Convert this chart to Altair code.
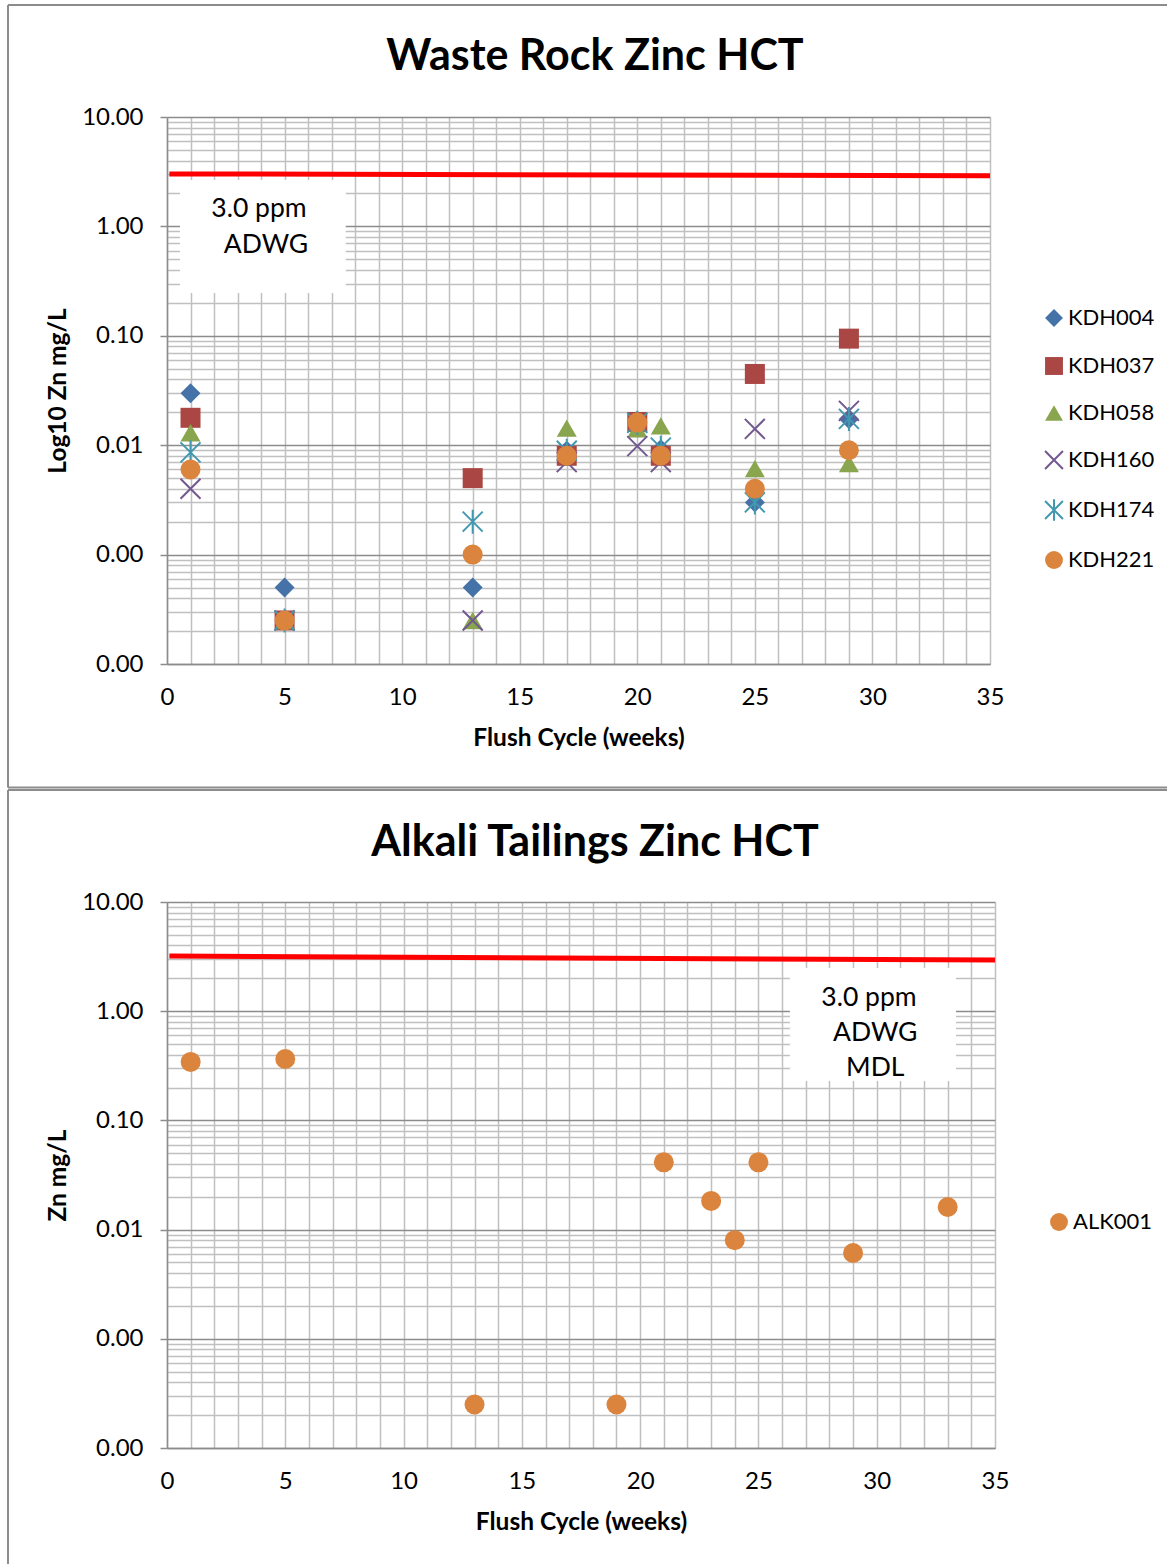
import altair as alt
import pandas as pd

FONT = "Lato"
FRAME_COLOR = "#8c8c8c"
GRID_MINOR = "#c0c0c0"
GRID_MAJOR = "#8c8c8c"

# ---------------- data: Waste Rock ----------------
WEEKS = [1, 5, 13, 17, 20, 21, 25, 29]
KDH004 = [0.0298, 0.0005, 0.0005, 0.0089, 0.016, 0.0092, 0.0030, 0.0174]
KDH037 = [0.0178, 0.00025, 0.0050, 0.0080, 0.0163, 0.0080, 0.0448, 0.0942]
KDH058 = [0.0130, 0.00025, 0.00025, 0.0143, 0.0141, 0.0150, 0.0061, 0.0068]
KDH160 = [0.0040, 0.00025, 0.00025, 0.0070, 0.0098, 0.0070, 0.0141, 0.0206]
KDH174 = [0.0086, 0.00025, 0.0020, 0.0089, 0.0160, 0.0095, 0.0030, 0.0174]
KDH221 = [0.0060, 0.00025, 0.0010, 0.0080, 0.0161, 0.0080, 0.0040, 0.0090]
SERIES = ["KDH004", "KDH037", "KDH058", "KDH160", "KDH174", "KDH221"]
SERIES_VALUES = [KDH004, KDH037, KDH058, KDH160, KDH174, KDH221]
X_PATH = "M-1,-1L1,1M-1,1L1,-1"
STAR_PATH = "M-1,-1L1,1M-1,1L1,-1M0,-1.2L0,1.2"
SERIES_SHAPES = ["diamond", "square", "triangle-up", X_PATH, STAR_PATH, "circle"]
SERIES_FILLS = ["#4572A7", "#AA4643", "#89A54E", "transparent", "transparent", "#DB843D"]
SERIES_STROKES = ["transparent", "transparent", "transparent", "#71588F", "#4198AF", "transparent"]

# ---------------- data: Alkali Tailings ----------------
ALK_WEEKS = [1, 5, 13, 19, 21, 23, 24, 25, 29, 33]
ALK001 = [0.343, 0.365, 0.00025, 0.00025, 0.0413, 0.0183, 0.0080, 0.0413, 0.0061, 0.0161]
ALK_SERIES = ["ALK001"]
ALK_COLORS = ["#DB843D"]

# guideline (ADWG 3.0 ppm) endpoints
LIMIT_X_TOP = [0.1, 35]
LIMIT_Y_TOP = [3.02, 2.90]
LIMIT_X_BOT = [0.1, 35]
LIMIT_Y_BOT = [3.20, 2.94]

TITLES = ["Waste Rock Zinc HCT", "Alkali Tailings Zinc HCT"]
Y_TITLES = ["Log10 Zn mg/L", "Zn mg/L"]
X_TITLE = "Flush Cycle (weeks)"

# annotation boxes (data coordinates)
BOX_TOP = {"x": [0.55], "x2": [7.6], "y": [2.66], "y2": [0.246]}
BOX_TOP_TEXT = {"t": ["3.0 ppm", "ADWG"], "x": [3.91, 4.21], "y": [1.219, 0.571]}
BOX_BOT = {"x": [26.33], "x2": [33.35], "y": [2.487], "y2": [0.2296]}
BOX_BOT_TEXT = {"t": ["3.0 ppm", "ADWG", "MDL"], "x": [29.67, 29.94, 29.94], "y": [1.116, 0.533, 0.255]}

# ---------------- scales & axes ----------------
YVALS = [k * 10.0 ** e for e in range(-4, 1) for k in range(1, 10)] + [10.0]
XVALS = list(range(0, 36))
DEC = "abs(log(datum.value)/LN10 - round(log(datum.value)/LN10)) < 0.001"

XSCALE = alt.Scale(domain=[0, 35], nice=False, zero=False)
YSCALE = alt.Scale(type="log", domain=[0.0001, 10], nice=False)

AX_COMMON = dict(
    labelFont=FONT, labelFontSize=24, labelColor="black",
    titleFont=FONT, titleFontSize=24.5, titleFontWeight="bold", titleColor="black",
    labelOverlap=False, labelFlush=False, gridWidth=1.5,
    domainColor=FRAME_COLOR, domainWidth=1.5,
)


def xaxis():
    return alt.Axis(
        title=X_TITLE, values=XVALS,
        labelExpr="datum.value % 5 == 0 ? datum.label : ''",
        ticks=False, gridColor=GRID_MINOR,
        labelPadding=21, titlePadding=17, **AX_COMMON,
    )


def yaxis(title):
    return alt.Axis(
        title=title, values=YVALS,
        labelExpr=f"{DEC} ? format(datum.value, '.2f') : ''",
        gridColor={"condition": {"test": DEC, "value": GRID_MAJOR}, "value": GRID_MINOR},
        tickColor={"condition": {"test": DEC, "value": FRAME_COLOR}, "value": "transparent"},
        tickSize=7, tickWidth=1.5,
        labelPadding=17, titlePadding=11, **AX_COMMON,
    )


def frame(L, T, R, B, with_bottom):
    one = pd.DataFrame({"k": [0]})
    base = alt.Chart(one).mark_rule(color=FRAME_COLOR, strokeWidth=2)
    layers = [
        base.encode(x=alt.value(L), y=alt.value(T), y2=alt.value(B)),
        base.encode(x=alt.value(L), x2=alt.value(R), y=alt.value(T)),
    ]
    if with_bottom:
        layers.append(base.encode(x=alt.value(L), x2=alt.value(R), y=alt.value(B)))
    return layers


def panel(frames, title, ytitle, limx, limy, box, boxtext, points, w, h, legend_xy, title_y):
    xa = xaxis()
    ya = yaxis(ytitle)
    line = alt.Chart(pd.DataFrame({"x": limx, "y": limy})).mark_line(
        color="#FF0000", strokeWidth=5
    ).encode(
        x=alt.X("x:Q", scale=XSCALE, axis=xa),
        y=alt.Y("y:Q", scale=YSCALE, axis=ya),
    )
    rect = alt.Chart(pd.DataFrame(box)).mark_rect(color="white", opacity=1).encode(
        x=alt.X("x:Q", scale=XSCALE, axis=xa), x2="x2:Q",
        y=alt.Y("y:Q", scale=YSCALE, axis=ya), y2="y2:Q",
    )
    btext = alt.Chart(pd.DataFrame(boxtext)).mark_text(
        font=FONT, fontSize=26.5, color="black", baseline="alphabetic", align="center"
    ).encode(
        x=alt.X("x:Q", scale=XSCALE, axis=xa),
        y=alt.Y("y:Q", scale=YSCALE, axis=ya),
        text="t:N",
    )
    ttl = alt.Chart(pd.DataFrame({"t": [title]})).mark_text(
        font=FONT, fontSize=43, fontWeight="bold", color="black",
        baseline="alphabetic", align="center"
    ).encode(x=alt.value(428), y=alt.value(title_y), text="t:N")
    return alt.layer(
        *frames, line, rect, btext, points(xa, ya, legend_xy), ttl
    ).properties(width=w, height=h)


def make_legend(lxy):
    return alt.Legend(
        title=None, orient="none", legendX=lxy[0], legendY=lxy[1],
        labelFont=FONT, labelFontSize=22, labelColor="black",
        symbolSize=320, symbolStrokeWidth=2, rowPadding=22, labelOffset=3, padding=0,
    )


def top_points(xa, ya, lxy):
    rows = []
    for s, vals in zip(SERIES, SERIES_VALUES):
        for wk, v in zip(WEEKS, vals):
            rows.append({"week": wk, "zn": v, "series": s})
    df = pd.DataFrame(rows)
    lg = make_legend(lxy)
    return alt.Chart(df).mark_point(opacity=1, size=400, strokeWidth=2).encode(
        x=alt.X("week:Q", scale=XSCALE, axis=xa),
        y=alt.Y("zn:Q", scale=YSCALE, axis=ya),
        fill=alt.Fill("series:N", scale=alt.Scale(domain=SERIES, range=SERIES_FILLS), legend=lg),
        stroke=alt.Stroke("series:N", scale=alt.Scale(domain=SERIES, range=SERIES_STROKES), legend=lg),
        shape=alt.Shape("series:N", scale=alt.Scale(domain=SERIES, range=SERIES_SHAPES), legend=lg),
    )


def bottom_points(xa, ya, lxy):
    df = pd.DataFrame({"week": ALK_WEEKS, "zn": ALK001, "grp": ALK_SERIES * len(ALK001)})
    lg = make_legend(lxy)
    return alt.Chart(df).mark_point(opacity=1, size=400, filled=True, shape="circle").encode(
        x=alt.X("week:Q", scale=XSCALE, axis=xa),
        y=alt.Y("zn:Q", scale=YSCALE, axis=ya),
        color=alt.Color("grp:N", scale=alt.Scale(domain=ALK_SERIES, range=ALK_COLORS), legend=lg),
    )


top = panel(frame(-159, -112, 1000, 670.5, True), TITLES[0], Y_TITLES[0],
            LIMIT_X_TOP, LIMIT_Y_TOP, BOX_TOP, BOX_TOP_TEXT,
            top_points, 823, 547, (876, 190), -47)
bottom = panel(frame(-159, -112, 1000, 662, False), TITLES[1], Y_TITLES[1],
               LIMIT_X_BOT, LIMIT_Y_BOT, BOX_BOT, BOX_BOT_TEXT,
               bottom_points, 828, 546, (881, 309), -46)

chart = alt.vconcat(top, bottom, spacing=0).resolve_scale(
    color="independent", fill="independent", stroke="independent", shape="independent",
    x="independent", y="independent",
).resolve_legend(
    color="independent", fill="independent", stroke="independent", shape="independent",
).properties(
    padding={"left": 7, "top": 4, "right": 0, "bottom": 0},
    background="white",
).configure_view(stroke=None)

chart.save("out.html", embed_options={"renderer": "svg", "actions": False})
